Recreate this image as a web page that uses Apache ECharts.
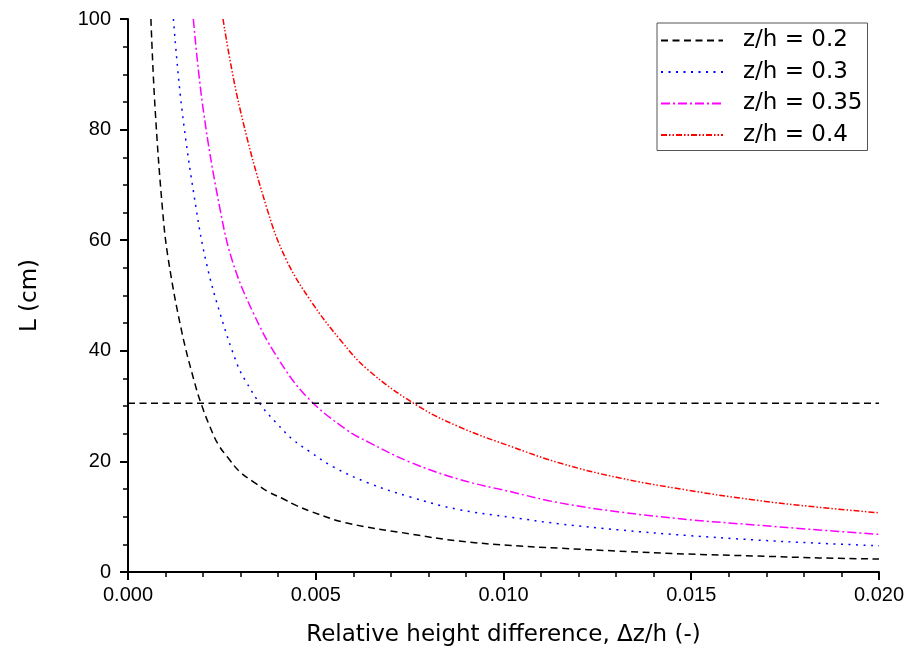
<!DOCTYPE html>
<html>
<head>
<meta charset="utf-8">
<script src="https://cdn.jsdelivr.net/npm/echarts@6/dist/echarts.min.js"></script>
<style>html,body{margin:0;padding:0;background:#fff}#c{width:907px;height:662px}</style>
</head>
<body>
<div id="c"></div>
<script>
// Data: [Δz/h, L (cm)]
const seriesNames = ['z/h = 0.2', 'z/h = 0.3', 'z/h = 0.35', 'z/h = 0.4'];
const zh020 = [[0.00061,100],[0.00072,84],[0.00092,65.5],[0.00107,56.7],[0.00143,43.5],[0.00178,34.1],[0.00196,30.2],[0.00218,26.3],[0.0024,23.1],[0.00267,20.6],[0.00298,18.1],[0.00334,16.3],[0.00374,14.5],[0.00414,13.2],[0.00449,12.0],[0.00489,10.9],[0.0058,8.9],[0.0075,6.9],[0.0088,5.6],[0.0102,4.8],[0.0115,4.3],[0.013,3.8],[0.0149,3.25],[0.0167,2.9],[0.0184,2.55],[0.02,2.35]];
const zh030 = [[0.00121,100],[0.00143,84],[0.00182,65.5],[0.00209,55.8],[0.00245,46.8],[0.0029,37.7],[0.00312,34.7],[0.00356,30.0],[0.00396,26.9],[0.00438,24.0],[0.00483,21.8],[0.00547,19],[0.0064,16.1],[0.0075,13.6],[0.0088,11.3],[0.0102,9.9],[0.0115,8.7],[0.0131,7.6],[0.0149,6.6],[0.0167,5.8],[0.0184,5.2],[0.02,4.75]];
const zh035 = [[0.00174,100],[0.002,83.8],[0.00246,65.3],[0.0028,55.8],[0.00334,46.8],[0.00396,39],[0.00476,31.7],[0.00582,25.7],[0.0064,23.5],[0.0075,19.9],[0.0088,16.8],[0.0102,14.5],[0.0115,12.5],[0.0131,10.85],[0.0149,9.5],[0.0167,8.5],[0.0184,7.6],[0.02,6.8]];
const zh040 = [[0.00253,100],[0.00296,84.4],[0.00372,65.3],[0.00422,56.4],[0.00485,49.2],[0.00565,42],[0.0064,36.5],[0.00768,30.2],[0.0088,26.3],[0.0102,22.7],[0.0115,19.7],[0.0131,17],[0.0149,14.8],[0.0167,13],[0.0184,11.7],[0.02,10.7]];
const refLine = [[0,30.5],[0.02,30.5]];
const xTitle = 'Relative height difference, \u0394z/h (-)';
const yTitle = 'L (cm)';

const FONT = 'Liberation Sans, Arial, sans-serif';
const WIDE = 'DejaVu Sans, Liberation Sans, sans-serif';
const chart = echarts.init(document.getElementById('c'), null, {renderer:'canvas'});

function curve(name, data, color, dash) {
  return {
    name: name, type: 'line', data: data, symbol: 'none', showSymbol: false,
    smooth: 0.4, silent: true, animation: false,
    lineStyle: {color: color, width: 1.5, type: dash}, itemStyle: {color: color}
  };
}

chart.setOption({
  animation: false,
  textStyle: {fontFamily: FONT, color: '#000'},
  grid: {left: 128, top: 19, right: 28, bottom: 90, containLabel: false},
  legend: {
    orient: 'vertical', left: 657, top: 23,
    padding: [6, 5, 4, 3], itemGap: 8.5, itemWidth: 62, itemHeight: 24,
    borderColor: '#555', borderWidth: 1, backgroundColor: '#fff',
    itemStyle: {opacity: 0, borderWidth: 0},
    textStyle: {fontSize: 23, fontFamily: WIDE, color: '#000', padding: [0,0,0,15]},
    data: seriesNames
  },
  xAxis: {
    type: 'value', min: 0, max: 0.02, interval: 0.005,
    name: xTitle, nameLocation: 'middle', nameGap: 52,
    nameTextStyle: {fontSize: 23, fontFamily: WIDE, color: '#000'},
    axisLine: {show: true, onZero: false, lineStyle: {color: '#000', width: 2}},
    axisTick: {show: true, length: 8, lineStyle: {color: '#000', width: 2}},
    minorTick: {show: true, splitNumber: 5, length: 5, lineStyle: {color: '#000', width: 1.5}},
    splitLine: {show: false},
    axisLabel: {fontSize: 20, color: '#000', fontFamily: FONT, margin: 13, formatter: v => v.toFixed(3)}
  },
  yAxis: {
    type: 'value', min: 0, max: 100, interval: 20,
    name: yTitle, nameLocation: 'middle', nameGap: 86, nameRotate: 90,
    nameTextStyle: {fontSize: 23, fontFamily: WIDE, color: '#000'},
    axisLine: {show: true, lineStyle: {color: '#000', width: 2}},
    axisTick: {show: true, length: 8, lineStyle: {color: '#000', width: 2}},
    minorTick: {show: true, splitNumber: 4, length: 5, lineStyle: {color: '#000', width: 1.5}},
    splitLine: {show: false},
    axisLabel: {fontSize: 20, color: '#000', fontFamily: FONT, margin: 17}
  },
  series: [
    curve(seriesNames[0], zh020, '#000000', [7, 4.5]),
    curve(seriesNames[1], zh030, '#0000ff', [2, 5.5]),
    curve(seriesNames[2], zh035, '#ff00ff', [9, 3, 2, 3]),
    curve(seriesNames[3], zh040, '#ff0000', [6, 2, 1.5, 2, 1.5, 2]),
    {name: 'ref', type: 'line', data: refLine, symbol: 'none', silent: true,
     lineStyle: {color: '#000', width: 1.5, type: [7, 4.5]}}
  ]
});
</script>
</body>
</html>
